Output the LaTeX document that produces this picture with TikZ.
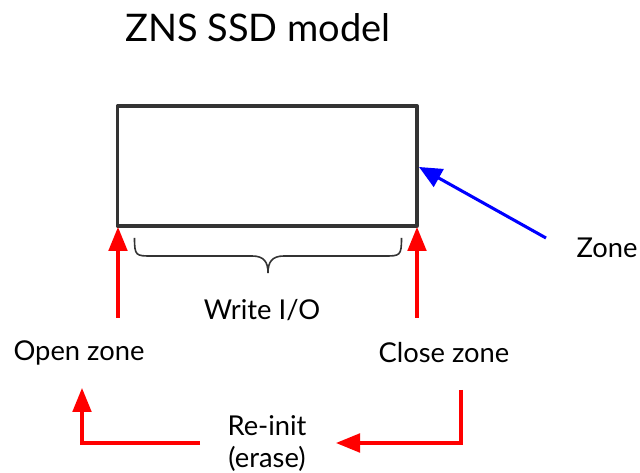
\documentclass[tikz,border=0pt]{standalone}
\usepackage{fontspec}
\setmainfont{Lato}
\usetikzlibrary{arrows.meta}
\definecolor{boxgray}{HTML}{333333}
\begin{document}
\begin{tikzpicture}[x=0.75pt,y=-0.75pt,
  lbl/.style={font=\fontsize{20.5}{24}\selectfont, inner sep=0pt, align=center},
  redarr/.style={draw=red, line width=2.3pt, -{Triangle[length=18pt,width=14pt]}},
  bluearr/.style={draw=blue, line width=2.3pt, -{Triangle[length=17pt,width=15pt]}}]
\useasboundingbox (0,0) rectangle (640,473);
\node[font=\fontsize{28.5}{32}\selectfont, inner sep=0pt] (title) at (258,28) {ZNS SSD model};
\draw[boxgray, line width=2.5pt, line join=round] (117.5,106) rectangle (417,226);
\coordinate (bl) at (118,227);
\coordinate (br) at (417,227);
\coordinate (rmid) at (419,167);
\node[lbl] (zone) at (607,248) {Zone};
\node[lbl] (wio) at (262,310) {Write I/O};
\node[lbl] (open) at (79,353) {Open zone};
\node[lbl] (close) at (444,353) {Close zone};
\node[lbl] (reinit) at (267,444) {Re-init\\(erase)};
\coordinate (os) at (118,318);
\coordinate (cs) at (417,318);
\coordinate (zs) at (546,238);
\coordinate (c1) at (461,390);
\coordinate (c2) at (461,443);
\coordinate (c3) at (336,443);
\coordinate (o1) at (200,443);
\coordinate (o2) at (82,443);
\coordinate (o3) at (82,388);
\draw[redarr] (os) -- (bl);
\draw[redarr] (cs) -- (br);
\draw[bluearr] (zs) -- (rmid);
\draw[redarr] (c1) -- (c2) -- (c3);
\draw[redarr] (o1) -- (o2) -- (o3);
\draw[boxgray, line width=1.2pt] (134.5,238) .. controls (134.5,256) and (136,256) .. (152,256) -- (252,256) .. controls (264,256) and (268,262) .. (268,273) .. controls (268,262) and (272,256) .. (284,256) -- (384,256) .. controls (400,256) and (401.5,256) .. (401.5,238);
\end{tikzpicture}
\end{document}
